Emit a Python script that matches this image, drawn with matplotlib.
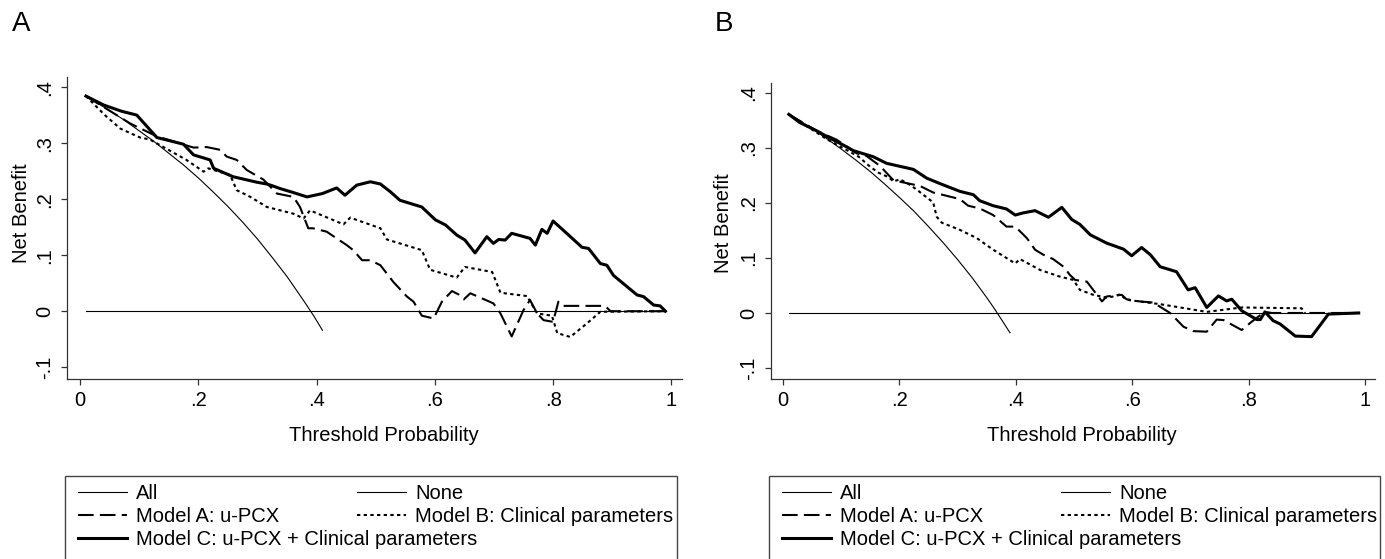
import matplotlib
matplotlib.use("Agg")
import matplotlib.pyplot as plt
from matplotlib.patches import Rectangle

plt.rcParams['font.family'] = ['Liberation Sans', 'DejaVu Sans']

# ---- panel A data (threshold probability, net benefit) ----
a_all_x = [0.01, 0.05, 0.075, 0.10, 0.125, 0.15, 0.175, 0.20, 0.225, 0.25, 0.275,
           0.30, 0.325, 0.35, 0.365, 0.38, 0.395, 0.41]
a_all_y = [0.384, 0.358, 0.341, 0.322, 0.303, 0.282, 0.261, 0.238, 0.213, 0.187, 0.159,
           0.129, 0.096, 0.062, 0.039, 0.016, -0.008, -0.034]
a_none_x = [0.01, 0.99]
a_none_y = [0.0, 0.0]
a_modA_x = [0.01, 0.039, 0.085, 0.13, 0.152, 0.192, 0.214, 0.237, 0.248, 0.265, 0.282,
            0.31, 0.333, 0.361, 0.372, 0.386, 0.394, 0.417, 0.434, 0.451, 0.462, 0.477,
            0.491, 0.508, 0.53, 0.553, 0.564, 0.578, 0.598, 0.612, 0.629, 0.64, 0.649,
            0.66, 0.699, 0.711, 0.73, 0.75, 0.761, 0.773, 0.784, 0.8, 0.809, 0.817,
            0.888, 0.897, 0.99]
a_modA_y = [0.384, 0.365, 0.335, 0.312, 0.305, 0.292, 0.293, 0.288, 0.276, 0.27, 0.252,
            0.235, 0.21, 0.204, 0.186, 0.148, 0.148, 0.142, 0.13, 0.118, 0.109, 0.091,
            0.091, 0.082, 0.052, 0.026, 0.017, -0.008, -0.013, 0.017, 0.036, 0.03, 0.021,
            0.032, 0.014, -0.004, -0.045, 0.002, 0.02, -0.004, -0.016, -0.019, 0.017, 0.0095,
            0.0095, 0.0, 0.0]
a_modB_x = [0.01, 0.042, 0.068, 0.1015, 0.118, 0.141, 0.18, 0.209, 0.217, 0.254, 0.265,
            0.288, 0.316, 0.361, 0.378, 0.389, 0.4455, 0.457, 0.508, 0.519, 0.578, 0.592,
            0.637, 0.651, 0.697, 0.711, 0.756, 0.773, 0.798, 0.807, 0.829, 0.857, 0.88, 0.99]
a_modB_y = [0.384, 0.35, 0.326, 0.31, 0.3065, 0.293, 0.27, 0.249, 0.255, 0.243, 0.216,
            0.204, 0.186, 0.174, 0.1655, 0.18, 0.155, 0.167, 0.148, 0.128, 0.109, 0.074,
            0.06, 0.079, 0.07, 0.033, 0.027, -0.004, -0.008, -0.039, -0.046, -0.022, -0.001, 0.0]
a_modC_x = [0.01, 0.04, 0.07, 0.096, 0.13, 0.175, 0.192, 0.22, 0.226, 0.259, 0.30, 0.316,
            0.325, 0.338, 0.36, 0.384, 0.41, 0.434, 0.448, 0.468, 0.491, 0.508, 0.525, 0.541,
            0.578, 0.601, 0.618, 0.637, 0.651, 0.668, 0.688, 0.699, 0.708, 0.719, 0.73, 0.761,
            0.77, 0.781, 0.79, 0.8, 0.823, 0.849, 0.86, 0.88, 0.891, 0.902, 0.942, 0.953,
            0.97, 0.981, 0.99]
a_modC_y = [0.384, 0.368, 0.357, 0.35, 0.31, 0.298, 0.279, 0.27, 0.255, 0.24, 0.23, 0.227,
            0.224, 0.219, 0.212, 0.204, 0.21, 0.22, 0.207, 0.225, 0.231, 0.227, 0.213, 0.198,
            0.186, 0.163, 0.154, 0.136, 0.127, 0.104, 0.133, 0.121, 0.128, 0.127, 0.139, 0.13,
            0.118, 0.146, 0.139, 0.161, 0.139, 0.114, 0.112, 0.085, 0.082, 0.064, 0.029, 0.026,
            0.011, 0.0095, 0.0]

# ---- panel B data ----
b_all_x = [0.01, 0.05, 0.075, 0.10, 0.125, 0.15, 0.175, 0.20, 0.225, 0.25, 0.275,
           0.30, 0.325, 0.35, 0.365, 0.39]
b_all_y = [0.362, 0.335, 0.317, 0.298, 0.278, 0.257, 0.234, 0.210, 0.185, 0.157, 0.128,
           0.097, 0.064, 0.028, 0.005, -0.036]
b_none_x = [0.01, 0.99]
b_none_y = [0.0, 0.0]
b_modA_x = [0.01, 0.058, 0.092, 0.127, 0.144, 0.167, 0.181, 0.19, 0.2125, 0.235, 0.258,
            0.281, 0.304, 0.318, 0.338, 0.361, 0.384, 0.399, 0.419, 0.433, 0.447, 0.464,
            0.482, 0.493, 0.502, 0.522, 0.548, 0.556, 0.582, 0.59, 0.613, 0.636, 0.665,
            0.688, 0.705, 0.728, 0.745, 0.757, 0.788, 0.805, 0.82, 0.828, 0.84, 0.99]
b_modA_y = [0.361, 0.331, 0.315, 0.29, 0.285, 0.267, 0.251, 0.241, 0.236, 0.231, 0.219,
            0.213, 0.207, 0.195, 0.19, 0.178, 0.157, 0.157, 0.136, 0.115, 0.106, 0.098,
            0.084, 0.069, 0.06, 0.057, 0.021, 0.03, 0.033, 0.025, 0.021, 0.019, 0.0,
            -0.025, -0.033, -0.034, -0.012, -0.013, -0.031, -0.016, -0.004, 0.002, 0.0, 0.0]
b_modB_x = [0.01, 0.075, 0.1095, 0.13, 0.1495, 0.164, 0.181, 0.19, 0.201, 0.218, 0.23,
            0.247, 0.258, 0.264, 0.273, 0.304, 0.333, 0.361, 0.399, 0.407, 0.442, 0.476,
            0.499, 0.51, 0.533, 0.556, 0.568, 0.579, 0.59, 0.648, 0.728, 0.788, 0.891, 0.897]
b_modB_y = [0.361, 0.316, 0.296, 0.284, 0.266, 0.255, 0.247, 0.239, 0.243, 0.233, 0.224,
            0.21, 0.201, 0.175, 0.164, 0.151, 0.136, 0.115, 0.09, 0.098, 0.078, 0.066,
            0.06, 0.042, 0.033, 0.028, 0.03, 0.034, 0.024, 0.016, 0.002, 0.01, 0.0085, 0.0]
b_modC_x = [0.01, 0.029, 0.058, 0.075, 0.08, 0.104, 0.121, 0.155, 0.178, 0.224, 0.247,
            0.27, 0.304, 0.327, 0.338, 0.361, 0.384, 0.399, 0.413, 0.433, 0.456, 0.479,
            0.496, 0.51, 0.528, 0.556, 0.585, 0.599, 0.616, 0.631, 0.648, 0.676, 0.696,
            0.708, 0.728, 0.748, 0.762, 0.771, 0.788, 0.814, 0.82, 0.828, 0.842, 0.854,
            0.88, 0.908, 0.937, 0.989]
b_modC_y = [0.361, 0.346, 0.331, 0.321, 0.318, 0.305, 0.295, 0.284, 0.272, 0.261, 0.245,
            0.235, 0.221, 0.215, 0.204, 0.195, 0.189, 0.178, 0.182, 0.186, 0.174, 0.192,
            0.17, 0.161, 0.142, 0.127, 0.116, 0.104, 0.119, 0.106, 0.084, 0.075, 0.042,
            0.046, 0.01, 0.031, 0.022, 0.025, 0.004, -0.012, -0.012, 0.002, -0.014, -0.02,
            -0.042, -0.043, -0.002, 0.0]

x_ticks = [0, 0.2, 0.4, 0.6, 0.8, 1]
x_ticklabels = ['0', '.2', '.4', '.6', '.8', '1']
y_ticks = [-0.1, 0, 0.1, 0.2, 0.3, 0.4]
y_ticklabels = ['-.1', '0', '.1', '.2', '.3', '.4']

legend_labels = ['All', 'None', 'Model A: u-PCX', 'Model B: Clinical parameters',
                 'Model C: u-PCX + Clinical parameters']

W, H = 1385, 559
FS = 14.5
fig = plt.figure(figsize=(W / 100, H / 100), dpi=100)


def px_rect(left, top, right, bottom):
    return [left / W, 1 - bottom / H, (right - left) / W, (bottom - top) / H]


def draw_panel(rect, xlim, ylim, data, letter, letter_x, ylab_xy, xlab_y, legend_box):
    ax = fig.add_axes(rect)
    all_x, all_y, none_x, none_y, ma_x, ma_y, mb_x, mb_y, mc_x, mc_y = data
    h_all, = ax.plot(all_x, all_y, color='black', lw=0.8)
    h_none, = ax.plot(none_x, none_y, color='black', lw=0.8)
    h_a, = ax.plot(ma_x, ma_y, color='black', lw=1.5, linestyle=(0, (7.5, 3)))
    h_b, = ax.plot(mb_x, mb_y, color='black', lw=1.5, linestyle=(0, (1.6, 1.6)))
    h_c, = ax.plot(mc_x, mc_y, color='black', lw=2.2)

    ax.set_xlim(*xlim)
    ax.set_ylim(*ylim)
    for s in ['top', 'right']:
        ax.spines[s].set_visible(False)
    for s in ['left', 'bottom']:
        ax.spines[s].set_color('#333333')
        ax.spines[s].set_linewidth(0.9)
    ax.set_xticks(x_ticks)
    ax.set_xticklabels(x_ticklabels)
    ax.set_yticks(y_ticks)
    ax.set_yticklabels(y_ticklabels, rotation=90, va='center')
    ax.tick_params(direction='out', length=4.5, width=0.9, color='#333333',
                   labelsize=FS, pad=4.5)
    ax.set_xlabel('Threshold Probability', fontsize=FS)
    ax.xaxis.set_label_coords(0.515, xlab_y)
    ax.set_ylabel('Net Benefit', fontsize=FS)
    ax.yaxis.set_label_coords(*ylab_xy)

    fig.text(letter_x / W, 1 - 24 / H, letter, fontsize=20, ha='left', va='center')

    # legend frame runs off the bottom of the figure, as in the original
    bl, bt, br = legend_box
    fig.add_artist(Rectangle((bl / W, -0.2), (br - bl) / W, 1 - bt / H + 0.2,
                             transform=fig.transFigure, fill=False,
                             ec='#444444', lw=1.0, clip_on=False))
    kw = dict(loc='upper left', frameon=False, fontsize=FS, borderpad=0,
              borderaxespad=0, handlelength=2.45, handletextpad=0.45,
              labelspacing=0.2)
    fig.legend([h_all, h_a, h_c], [legend_labels[0], legend_labels[2], legend_labels[4]],
               bbox_to_anchor=((bl + 13) / W, 1 - (bt + 8) / H), **kw)
    fig.legend([h_none, h_b], [legend_labels[1], legend_labels[3]],
               bbox_to_anchor=((bl + 292) / W, 1 - (bt + 8) / H), **kw)


draw_panel(px_rect(67, 77, 682, 379), (-0.022, 1.018), (-0.121, 0.418),
           (a_all_x, a_all_y, a_none_x, a_none_y, a_modA_x, a_modA_y,
            a_modB_x, a_modB_y, a_modC_x, a_modC_y),
           'A', 12, (-0.058, 0.55), -0.156, (65, 476, 677))
draw_panel(px_rect(771, 83, 1375, 379), (-0.0206, 1.017), (-0.12, 0.418),
           (b_all_x, b_all_y, b_none_x, b_none_y, b_modA_x, b_modA_y,
            b_modB_x, b_modB_y, b_modC_x, b_modC_y),
           'B', 715, (-0.063, 0.527), -0.159, (769, 476, 1380))

fig.savefig('out.png', dpi=100)
